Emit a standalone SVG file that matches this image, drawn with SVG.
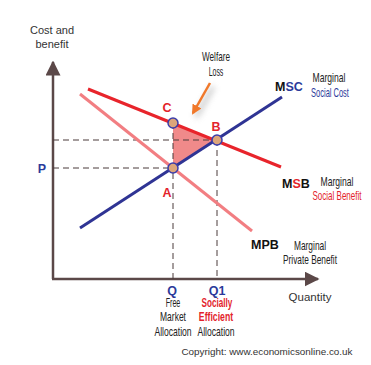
<svg xmlns="http://www.w3.org/2000/svg" width="371" height="365" viewBox="0 0 371 365">
<defs>
<style>
.ax{stroke:#5b4848;stroke-width:2.5;fill:none}
.dash{stroke:#4a3b3b;stroke-width:1;stroke-dasharray:6,4;fill:none}
.pt{fill:#dca57a;stroke:#3b3dab;stroke-width:1.5}
.n{font-family:"Liberation Sans",Arial,sans-serif;font-size:12px;fill:#222;text-anchor:middle}
.lab{font-family:"Liberation Sans",Arial,sans-serif;font-weight:bold;font-size:12.5px;text-anchor:middle}
.reg{font-family:"Liberation Sans",Arial,sans-serif;fill:#333;text-anchor:middle}
.blue{fill:#2b3a9a}
.red{fill:#e3232b}
</style>
<marker id="ah" viewBox="0 0 10 10" refX="9" refY="5" markerWidth="6" markerHeight="6" markerUnits="strokeWidth" orient="auto">
<path d="M0,0 L10,5 L0,10 z" fill="#5b4848"/>
</marker>
<marker id="oh" viewBox="0 0 10 10" refX="8" refY="5" markerWidth="4" markerHeight="4" markerUnits="strokeWidth" orient="auto">
<path d="M0,0 L10,5 L0,10 z" fill="#f0782a"/>
</marker>
<filter id="sh" x="-50%" y="-50%" width="200%" height="200%"><feGaussianBlur stdDeviation="3"/></filter>
</defs>
<rect width="371" height="365" fill="#fff"/>
<g id="axes">
<path class="ax" d="M53,279 V62" marker-end="url(#ah)"/>
<path class="ax" d="M52,279 H318" marker-end="url(#ah)"/>
</g>
<g id="welfare-loss">
<polygon points="173,123 173,168 217,140" fill="#f08a8a"/>
</g>
<g id="connectors">
<path class="dash" d="M53,140 H217"/>
<path class="dash" d="M53,168 H173"/>
<path class="dash" d="M173,123 V279"/>
<path class="dash" d="M217,140 V279"/>
<line x1="80" y1="94" x2="252" y2="231" stroke="#f27e82" stroke-width="3"/>
<line x1="88" y1="89" x2="281" y2="167" stroke="#e8242b" stroke-width="3"/>
<line x1="80" y1="228" x2="282" y2="97" stroke="#2f3494" stroke-width="3"/>
<path d="M213,87 L196,117" stroke="#999" stroke-width="4" filter="url(#sh)" opacity="0.6"/>
<path d="M210,83 L193,113" stroke="#f0782a" stroke-width="2.5" marker-end="url(#oh)"/>
</g>
<g id="C"><circle class="pt" cx="173" cy="123" r="5"/><text class="lab red" x="167" y="112">C</text></g>
<g id="B"><circle class="pt" cx="217" cy="140" r="5"/><text class="lab red" x="216" y="131">B</text></g>
<g id="A"><circle class="pt" cx="173" cy="168" r="5"/><text class="lab red" x="167" y="197">A</text></g>
<g id="P"><text class="lab blue" x="42" y="173" font-size="11">P</text></g>
<g id="MSC">
<text class="lab" x="289" y="91"><tspan fill="#111">M</tspan><tspan class="blue">SC</tspan></text>
<text class="n" transform="translate(329,82) scale(0.7,1)" textLength="47" lengthAdjust="spacingAndGlyphs">Marginal</text>
<text class="n blue" transform="translate(330,97) scale(0.7,1)" textLength="54" lengthAdjust="spacingAndGlyphs">Social Cost</text>
</g>
<g id="MSB">
<text class="lab" x="296" y="188"><tspan fill="#111">M</tspan><tspan class="red">S</tspan><tspan fill="#111">B</tspan></text>
<text class="n" transform="translate(337,186) scale(0.7,1)" textLength="47" lengthAdjust="spacingAndGlyphs">Marginal</text>
<text class="n red" transform="translate(337,200) scale(0.7,1)" textLength="70" lengthAdjust="spacingAndGlyphs">Social Benefit</text>
</g>
<g id="MPB">
<text class="lab" x="265" y="249" fill="#111">MPB</text>
<text class="n" transform="translate(310,250) scale(0.7,1)" textLength="46" lengthAdjust="spacingAndGlyphs">Marginal</text>
<text class="n" transform="translate(310,264) scale(0.7,1)" textLength="77" lengthAdjust="spacingAndGlyphs">Private Benefit</text>
</g>
<g id="Welfare">
<text class="n" transform="translate(216,61) scale(0.7,1)" textLength="40" lengthAdjust="spacingAndGlyphs">Welfare</text>
<text class="n" transform="translate(216,76) scale(0.7,1)" textLength="21" lengthAdjust="spacingAndGlyphs">Loss</text>
</g>
<g id="Q">
<text class="lab blue" x="172" y="295" font-size="11.5">Q</text>
<text class="n" transform="translate(173,307) scale(0.7,1)" textLength="21" lengthAdjust="spacingAndGlyphs">Free</text>
<text class="n" transform="translate(173,321) scale(0.7,1)" textLength="37" lengthAdjust="spacingAndGlyphs">Market</text>
<text class="n" transform="translate(173,336) scale(0.7,1)" textLength="53" lengthAdjust="spacingAndGlyphs">Allocation</text>
</g>
<g id="Q1">
<text class="lab blue" x="217" y="295" font-size="11.5">Q1</text>
<text class="n red" transform="translate(217,307) scale(0.7,1)" font-weight="bold" textLength="44" lengthAdjust="spacingAndGlyphs">Socially</text>
<text class="n red" transform="translate(216,321) scale(0.7,1)" font-weight="bold" textLength="49" lengthAdjust="spacingAndGlyphs">Efficient</text>
<text class="n" transform="translate(216,336) scale(0.7,1)" textLength="53" lengthAdjust="spacingAndGlyphs">Allocation</text>
</g>
<text class="reg" x="52" y="34" font-size="11">Cost and</text>
<text class="reg" x="52" y="48" font-size="11">benefit</text>
<text class="reg" x="310" y="301" font-size="11.5">Quantity</text>
<text class="reg" x="267" y="355" font-size="9.5" fill="#444" textLength="171" lengthAdjust="spacingAndGlyphs">Copyright: www.economicsonline.co.uk</text>
</svg>
